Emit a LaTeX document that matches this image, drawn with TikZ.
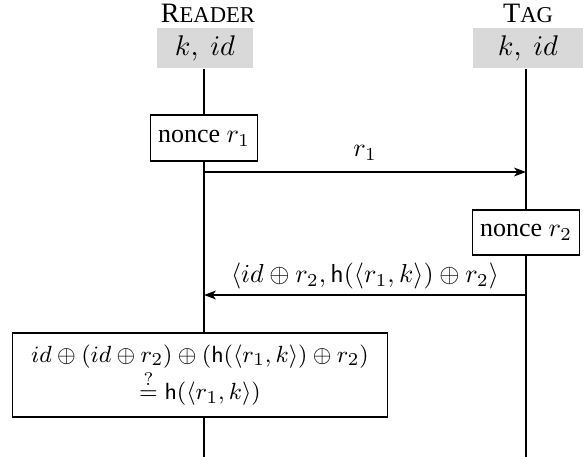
\documentclass[tikz,border=0pt]{standalone}
\usepackage[no-math]{fontspec}
\setmainfont{Liberation Serif}
\usetikzlibrary{arrows.meta}
\def\px{0.3846pt}
\newcommand{\fakesc}[2]{{\fontsize{10.8}{12}\selectfont #1}{\fontsize{8.7}{10}\selectfont #2}}
\tikzset{
  ttl/.style={inner sep=0pt},
  keybox/.style={fill=black!15, draw=none, inner sep=0pt, minimum height=40*\px, font=\fontsize{11}{13}\selectfont},
  actbox/.style={draw, line width=0.5pt, inner sep=3pt},
  life/.style={line width=0.45pt},
  lifetop/.style={line width=0.8pt},
  msg/.style={line width=0.45pt, -{Stealth[length=4.6pt,width=3.4pt,inset=1.3pt]}}
}
\begin{document}
\begin{tikzpicture}[x=\px, y=-\px]
\useasboundingbox (0,0) rectangle (583,457);
% titles
\node[ttl] (rt) at (208,13) {\fakesc{R}{EADER}};
\node[ttl] (tt) at (528,13) {\fakesc{T}{AG}};
% key boxes
\node[keybox, minimum width=96*\px] (rk) at (205,48) {$k,\ id$};
\node[keybox, minimum width=110*\px] (tk) at (528,48) {$k,\ id$};
% actions
\node[actbox, minimum width=107*\px, minimum height=46*\px] (n1) at (204,138) {nonce $r_1$};
\node[actbox, minimum width=106*\px, minimum height=45*\px] (n2) at (526,232.5) {nonce $r_2$};
\node[actbox, align=center, font=\fontsize{9.4}{12.3}\selectfont, minimum width=375*\px, minimum height=84*\px] (fin) at (200,375)
  {$id \oplus (id \oplus r_2) \oplus (\mathsf{h}(\langle r_1, k\rangle) \oplus r_2)$\\
   $\stackrel{?}{=} \mathsf{h}(\langle r_1, k\rangle)$};
% lifeline ends
\coordinate (rb) at (204,457);
\coordinate (tb) at (526,457);
% lifelines
\draw[lifetop] (rk.south -| n1.north) -- (n1.north);
\draw[life] (n1.south) -- (n1.south |- fin.north);
\draw[life] (n1.south |- fin.south) -- (rb);
\draw[lifetop] (tk.south -| n2.north) -- (n2.north);
\draw[life] (n2.south) -- (tb);
% messages
\coordinate (m1s) at (204,172);
\coordinate (m1e) at (526,172);
\draw[msg] (m1s) -- node[above, yshift=1pt] {$r_1$} (m1e);
\coordinate (m2s) at (526,295);
\coordinate (m2e) at (204,295);
\draw[msg] (m2s) -- node[above, inner sep=2pt] {$\langle id \oplus r_2, \mathsf{h}(\langle r_1, k\rangle) \oplus r_2\rangle$} (m2e);
\end{tikzpicture}
\end{document}
